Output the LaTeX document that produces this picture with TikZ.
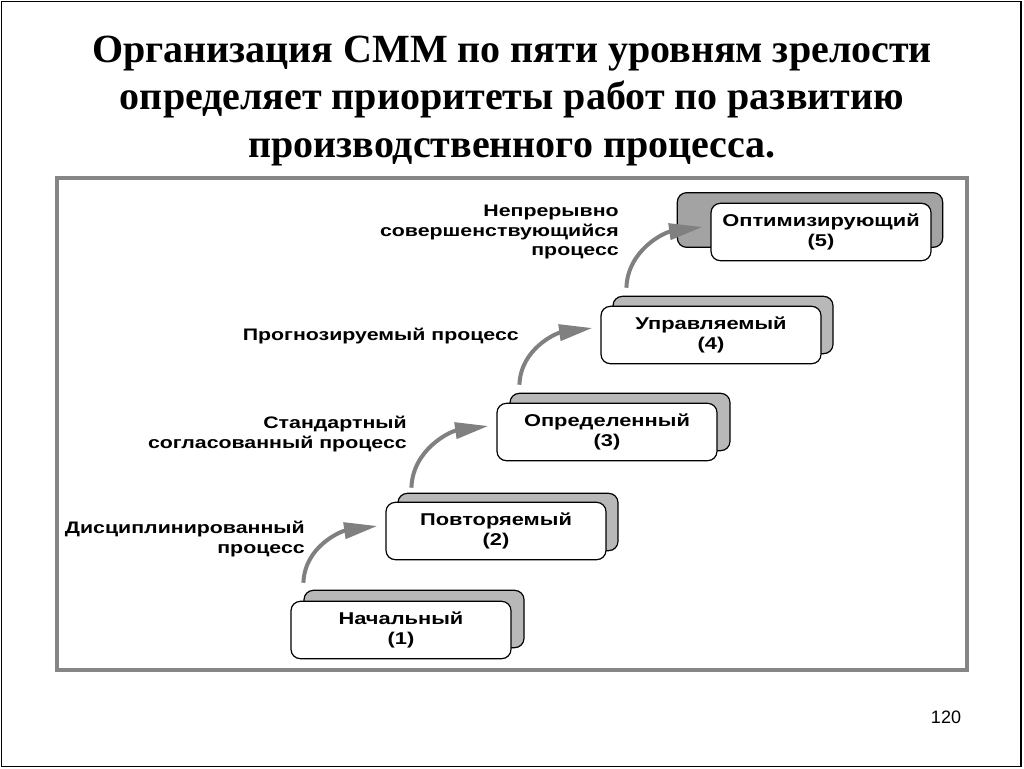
\documentclass[tikz,border=0pt]{standalone}
\usepackage{fontspec}
\setmainfont{Liberation Serif}
\newfontfamily\widefont[FakeStretch=1.28]{Liberation Sans}
\newfontfamily\numfont{Liberation Sans}
\usetikzlibrary{arrows.meta,calc}

\begin{document}
\begin{tikzpicture}[x=0.75pt,y=0.75pt,yscale=-1,xscale=1,
  levelbox/.style={draw=black,line width=0.9pt,rounded corners=7pt,fill=white,
    minimum width=165pt,minimum height=43pt,align=center,inner sep=0pt,
    font=\widefont\bfseries\fontsize{12.8}{15}\selectfont},
  backbox/.style={levelbox,fill=gray!56},
  steptext/.style={align=right,anchor=east,inner sep=0pt,
    font=\widefont\bfseries\fontsize{12.5}{14.5}\selectfont},
  stepup/.style={draw=gray,line width=3pt,-{Triangle[length=25pt,width=12pt]}}]
\useasboundingbox (0,0) rectangle (1024,768);

% slide frame
\draw [line width=0.8pt] (1.5,1.5) rectangle (1021,766.5);
\draw [draw=gray!95,line width=2.7pt] (57,178) rectangle (967,670);

% Text Node
\node (title) [align=center,font=\bfseries\fontsize{30}{35.6}\selectfont] at (512,101)
  {Организация СММ по пяти уровням зрелости\\
   определяет приоритеты работ по развитию\\
   производственного процесса.};

%Back boxes
\node (b1) [backbox] at (414,619) {};
\node (b2) [backbox] at (508,522) {};
\node (b3) [backbox] at (620,422) {};
\node (b4) [backbox] at (723,325) {};
\node (b5) [backbox,fill=gray!72,minimum width=199pt,minimum height=41pt] at (810,220) {};

%Front boxes
\node (f1) [levelbox] at (401,630) {Начальный\\(1)};
\node (f2) [levelbox] at (496,531) {Повторяемый\\(2)};
\node (f3) [levelbox] at (607,432) {Определенный\\(3)};
\node (f4) [levelbox] at (711,335) {Управляемый\\(4)};
\node (f5) [levelbox] at (821,232) {Оптимизирующий\\(5)};

%Curved arrows
\draw [stepup] ($(b1.north west)+(0,-7)$) to[out=-88,in=172] ($(f2.west)+(-8,-5)$);
\draw [stepup] ($(b2.north west)+(14,-5)$) to[out=-88,in=172] ($(f3.west)+(-8,-6)$);
\draw [stepup] ($(b3.north west)+(10,-8)$) to[out=-88,in=172] ($(f4.west)+(-8,-7)$);
\draw [stepup] ($(b4.north west)+(14,-8)$) to[out=-88,in=172] ($(f5.west)+(-8,-5)$);

% Text Node
\node (lab1) [steptext] at (305,539) {Дисциплинированный\\процесс};
\node (lab2) [steptext] at (407,434) {Стандартный\\согласованный процесс};
\node (lab3) [steptext] at (519,336) {Прогнозируемый процесс};
\node (lab4) [steptext] at (619,232) {Непрерывно\\совершенствующийся\\процесс};

% Text Node
\node (num) [font=\numfont\fontsize{13.5}{16}\selectfont] at (946,717) {120};

\end{tikzpicture}
\end{document}
